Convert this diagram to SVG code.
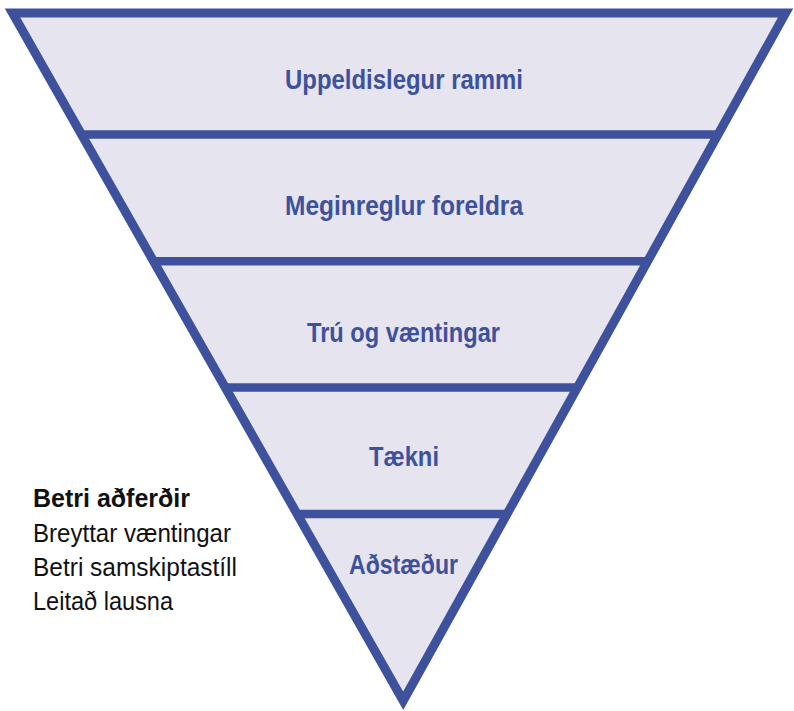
<svg xmlns="http://www.w3.org/2000/svg" width="794" height="711" viewBox="0 0 794 711">
  <style>
    .lvl { font-family: "Liberation Sans", Arial, sans-serif; font-weight: bold; font-size: 27px; fill: #3e519c; text-anchor: middle; }
    .side { font-family: "Liberation Sans", Arial, sans-serif; font-size: 25px; fill: #111111; }
    .sideb { font-weight: bold; }
    .sep { stroke: #3e519c; stroke-width: 8.5; fill: none; }
  </style>
  <rect width="794" height="711" fill="#ffffff"/>
  <g id="triangle-fill">
    <polygon points="12.5,13 785.6,13 403.2,700.8" fill="#e5e4ef"/>
  </g>
  <g id="connectors">
    <line class="sep" x1="81.5" y1="134.5" x2="718" y2="134.5"/>
    <line class="sep" x1="153.5" y1="261.3" x2="647.5" y2="261.3"/>
    <line class="sep" x1="225.2" y1="387.5" x2="577.4" y2="387.5"/>
    <line class="sep" x1="297.1" y1="514" x2="507" y2="514"/>
  </g>
  <g id="triangle-outline">
    <polygon points="12.5,13 785.6,13 403.2,700.8" fill="none" stroke="#3e519c" stroke-width="9" stroke-linejoin="miter" stroke-miterlimit="10"/>
  </g>
  <g id="level-uppeldislegur-rammi">
    <text class="lvl" x="404" y="89" textLength="238" lengthAdjust="spacingAndGlyphs">Uppeldislegur rammi</text>
  </g>
  <g id="level-meginreglur-foreldra">
    <text class="lvl" x="404" y="215" textLength="238" lengthAdjust="spacingAndGlyphs">Meginreglur foreldra</text>
  </g>
  <g id="level-tru-og-vaentingar">
    <text class="lvl" x="403.5" y="342" textLength="193" lengthAdjust="spacingAndGlyphs">Trú og væntingar</text>
  </g>
  <g id="level-taekni">
    <text class="lvl" x="404" y="466" textLength="70" lengthAdjust="spacingAndGlyphs">Tækni</text>
  </g>
  <g id="level-adstaedur">
    <text class="lvl" x="403.5" y="574" textLength="109" lengthAdjust="spacingAndGlyphs">Aðstæður</text>
  </g>
  <g id="side-list">
    <text class="side sideb" x="33" y="507" textLength="157" lengthAdjust="spacingAndGlyphs">Betri aðferðir</text>
    <text class="side" x="33" y="542" textLength="198" lengthAdjust="spacingAndGlyphs">Breyttar væntingar</text>
    <text class="side" x="33" y="576" textLength="204" lengthAdjust="spacingAndGlyphs">Betri samskiptastíll</text>
    <text class="side" x="33" y="610" textLength="140" lengthAdjust="spacingAndGlyphs">Leitað lausna</text>
  </g>
</svg>
